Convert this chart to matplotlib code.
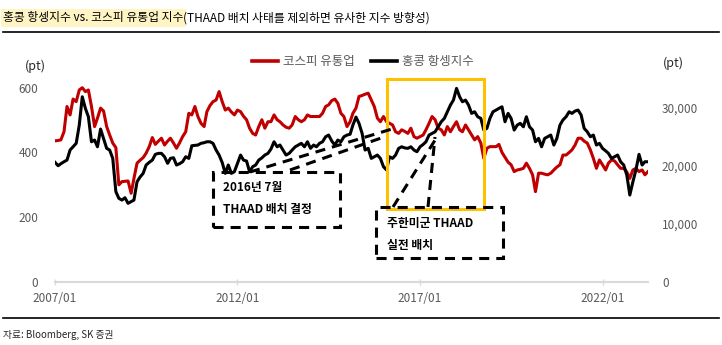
import numpy as np
import pandas as pd
import matplotlib
matplotlib.use("Agg")
import matplotlib.pyplot as plt
import matplotlib.dates as mdates
from matplotlib.patches import Rectangle
from matplotlib.lines import Line2D
from matplotlib.ticker import FuncFormatter

plt.rcParams['font.family'] = ['Noto Sans CJK KR', 'DejaVu Sans']

# monthly, 2007/01 ~ 2023/04
start_month = '2007-01-01'
kospi_retail = [
    436, 437, 439, 464, 542, 516, 565, 557, 593, 600, 588, 593,
    542, 480, 506, 537, 528, 480, 454, 429, 415, 300, 310, 311,
    312, 274, 320, 367, 376, 384, 398, 418, 446, 425, 435, 444,
    423, 435, 444, 429, 413, 430, 449, 464, 521, 516, 542, 511,
    490, 480, 526, 545, 557, 562, 588, 557, 531, 537, 525, 516,
    531, 526, 512, 501, 475, 459, 454, 480, 501, 475, 495, 495,
    516, 501, 495, 485, 478, 475, 485, 511, 501, 495, 501, 516,
    511, 511, 511, 511, 521, 542, 547, 560, 565, 552, 521, 511,
    480, 495, 521, 537, 573, 576, 580, 583, 562, 542, 506, 495,
    511, 495, 490, 485, 464, 459, 470, 465, 459, 475, 449, 444,
    449, 454, 470, 490, 511, 501, 475, 470, 454, 480, 464, 480,
    495, 470, 464, 485, 470, 454, 439, 449, 429, 382, 413, 418,
    418, 418, 425, 400, 385, 370, 362, 341, 346, 348, 351, 367,
    351, 331, 279, 336, 336, 333, 331, 336, 346, 355, 362, 392,
    392, 400, 408, 423, 444, 444, 435, 429, 408, 382, 351, 377,
    362, 346, 367, 377, 374, 362, 351, 351, 340, 320, 346, 351,
    341, 346, 331, 341,
]
hang_seng = [
    20530, 19950, 20300, 20630, 20920, 22640, 23200, 23790, 26930, 31780, 29790, 28350,
    24060, 24350, 23200, 26240, 24640, 22930, 22640, 21210, 15500, 14350, 14060, 14460,
    13500, 13800, 14060, 17200, 18000, 18640, 20070, 20530, 20920, 21900, 22070, 22070,
    21490, 20360, 21210, 21320, 20070, 20300, 20630, 21490, 21210, 23380, 23450, 23500,
    23790, 23900, 24060, 24060, 23790, 22640, 21780, 20500, 18640, 20070, 18640, 18920,
    20360, 21780, 20920, 20750, 18920, 19780, 20070, 20920, 21300, 21780, 22070, 22810,
    24060, 23200, 23500, 22640, 21780, 22070, 22640, 23200, 23500, 23790, 23200, 24060,
    22930, 23500, 23200, 23790, 24060, 24920, 25210, 24200, 23500, 24350, 24060, 24920,
    25210, 25350, 26930, 28300, 27220, 25500, 22640, 22930, 21210, 21500, 21780, 21210,
    19780, 19210, 21490, 21210, 21780, 22930, 23200, 23000, 22930, 23200, 22640, 22350,
    23200, 23600, 24060, 25210, 25500, 25780, 26630, 27490, 28070, 29210, 30360, 31210,
    33220, 31780, 30920, 31210, 30360, 28930, 29210, 28350, 28070, 26070, 26360, 28070,
    29210, 29500, 29790, 30060, 27490, 28930, 28070, 26070, 26930, 27220, 26630, 28350,
    26630, 26070, 24060, 24640, 23200, 24640, 24920, 25210, 23500, 24640, 26930, 27800,
    28350, 29210, 28930, 29330, 29500, 28640, 26360, 25780, 24920, 25210, 23500, 23790,
    22930, 22500, 22070, 21210, 21490, 21780, 20630, 20070, 18350, 14920, 17200, 19210,
    21900, 20070, 20630, 20630,
]
x_ticks = ['2007-01-01', '2012-01-01', '2017-01-01', '2022-01-01']
left_ticks = [0, 200, 400, 600]
right_ticks = [0, 10000, 20000, 30000]

dates = pd.date_range(start_month, periods=len(kospi_retail), freq='MS')

W, H = 722, 345
fig = plt.figure(figsize=(W / 100, H / 100), dpi=100)


def fx(px):
    return px / W


def fy(py):
    return 1 - py / H


ax = fig.add_axes([fx(55), fy(282), fx(648) - fx(55), fy(78) - fy(282)])
ax2 = ax.twinx()

red = '#C00000'
ax.plot(dates, kospi_retail, color=red, lw=2.2, label='코스피 유통업', zorder=3)
ax2.plot(dates, hang_seng, color='black', lw=2.2, label='홍콩 항셍지수', zorder=3)

ax.set_xlim(dates[0], dates[-1])
ax.set_ylim(0, 630)
ax2.set_ylim(0, 35000)
ax.set_yticks(left_ticks)
ax2.set_yticks(right_ticks)
ax2.yaxis.set_major_formatter(FuncFormatter(lambda v, p: f'{int(v):,}'))
ax.set_xticks(pd.to_datetime(x_ticks))
ax.xaxis.set_major_formatter(mdates.DateFormatter('%Y/%m'))

grey = '#595959'
for a in (ax, ax2):
    for s in ('top', 'right', 'left'):
        a.spines[s].set_visible(False)
    a.spines['bottom'].set_color('#D9D9D9')
    a.spines['bottom'].set_linewidth(1.5)
ax2.spines['bottom'].set_visible(False)
ax.tick_params(axis='x', colors='#D9D9D9', labelcolor=grey, labelsize=8.5,
               length=4, width=1, direction='inout', pad=5)
ax.tick_params(axis='y', length=0, labelcolor=grey, labelsize=8.5, pad=12)
ax2.tick_params(axis='y', length=0, labelcolor=grey, labelsize=8.5, pad=10)

fig.text(fx(25), fy(66), '(pt)', fontsize=9, color='#262626', va='center')
fig.text(fx(663), fy(63), '(pt)', fontsize=9, color='#262626', va='center')

h1, l1 = ax.get_legend_handles_labels()
h2, l2 = ax2.get_legend_handles_labels()
leg = fig.legend(h1 + h2, l1 + l2, loc='center', bbox_to_anchor=(fx(363), fy(62)),
                 ncol=2, frameon=False, fontsize=9, handlelength=2.1,
                 handletextpad=0.4, columnspacing=1.3)
for t in leg.get_texts():
    t.set_color(grey)
for lh in leg.get_lines():
    lh.set_linewidth(2.6)

# THAAD period box
fig.add_artist(Rectangle((fx(387), fy(209)), fx(484) - fx(387), fy(79) - fy(209),
                         transform=fig.transFigure, fill=False,
                         edgecolor='#FFC000', lw=2.2, zorder=5))

dash = dict(color='black', lw=2.2, linestyle=(0, (3.3, 2.3)),
            transform=fig.transFigure, zorder=6)


def dashed_box(x0, y0, x1, y1):
    fig.add_artist(Rectangle((fx(x0), fy(y1)), fx(x1) - fx(x0), fy(y0) - fy(y1),
                             fill=False, edgecolor='black', lw=2.2,
                             linestyle=(0, (3.3, 2.3)),
                             transform=fig.transFigure, zorder=6))


def dashed_line(x0, y0, x1, y1):
    fig.add_artist(Line2D([fx(x0), fx(x1)], [fy(y0), fy(y1)], **dash))


dashed_box(213, 172, 340, 227)
dashed_line(250, 172, 392, 129)
dashed_line(290, 170, 384, 137)
fig.text(fx(223), fy(188), '2016년 7월', fontsize=8.5, fontweight='bold', va='center')
fig.text(fx(223), fy(209), 'THAAD 배치 결정', fontsize=8.5, fontweight='bold', va='center')

dashed_box(376, 207, 503, 258)
dashed_line(393, 207, 437, 137)
dashed_line(428, 207, 435, 137)
fig.text(fx(387), fy(224), '주한미군 THAAD', fontsize=8.5, fontweight='bold', va='center')
fig.text(fx(387), fy(245), '실전 배치', fontsize=8.5, fontweight='bold', va='center')

# title
t1 = fig.text(fx(3), fy(18), '홍콩 항셍지수 vs. 코스피 유통업 지수', fontsize=8.5,
              va='center', color='black',
              bbox=dict(facecolor='#FFF5C4', edgecolor='none', pad=1.5))
fig.canvas.draw()
bb = t1.get_window_extent(fig.canvas.get_renderer())
fig.text(bb.x1 / fig.bbox.width, fy(18), '(THAAD 배치 사태를 제외하면 유사한 지수 방향성)',
         fontsize=8.5, va='center', color='black')

fig.add_artist(Line2D([fx(3), fx(719)], [fy(32), fy(32)], color='black', lw=1.2,
                      transform=fig.transFigure))
fig.add_artist(Line2D([fx(3), fx(719)], [fy(318), fy(318)], color='black', lw=1.2,
                      transform=fig.transFigure))
fig.text(fx(3), fy(335), '자료: Bloomberg, SK 증권', fontsize=7, color='#262626', va='center')

fig.savefig('out.png', dpi=100)
